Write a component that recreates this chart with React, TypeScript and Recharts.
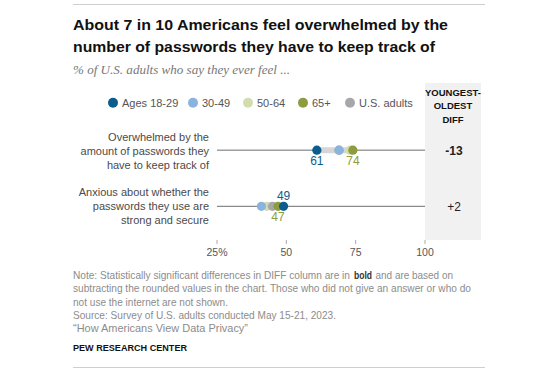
import React from 'react';
import { ScatterChart, Scatter, XAxis, YAxis } from 'recharts';

const FONT = "'Liberation Sans', Arial, Helvetica, sans-serif";

const titleLines = [
  'About 7 in 10 Americans feel overwhelmed by the',
  'number of passwords they have to keep track of',
];
const subtitle = '% of U.S. adults who say they ever feel ...';
const rowLabels = [
  ['Overwhelmed by the', 'amount of passwords they', 'have to keep track of'],
  ['Anxious about whether the', 'passwords they use are', 'strong and secure'],
];
const seriesNames = ['Ages 18-29', '30-49', '50-64', '65+', 'U.S. adults'];
const ages18to29 = [61, 49];
const ages30to49 = [69, 41];
const ages50to64 = [73, 43];
const ages65plus = [74, 47];
const usAdults = [69, 45];
const diffSignificant = [true, false];
const xTicks = [25, 50, 75, 100];
const diffHeader = ['YOUNGEST-', 'OLDEST', 'DIFF'];
const noteFirstParts = [
  'Note: Statistically significant differences in DIFF column are in',
  'bold',
  'and are based on',
];
const noteLines = [
  'subtracting the rounded values in the chart. Those who did not give an answer or who do',
  'not use the internet are not shown.',
  'Source: Survey of U.S. adults conducted May 15-21, 2023.',
  '\u201CHow Americans View Data Privacy\u201D',
];
const brand = 'PEW RESEARCH CENTER';

const colors: Record<string, string> = {
  'Ages 18-29': '#0d5d8c',
  '30-49': '#8ab3de',
  '50-64': '#d3dcae',
  '65+': '#8e9b3f',
  'U.S. adults': '#a6a7aa',
};

const valuesByName: Record<string, number[]> = {
  'Ages 18-29': ages18to29,
  '30-49': ages30to49,
  '50-64': ages50to64,
  '65+': ages65plus,
  'U.S. adults': usAdults,
};

// draw order (later on top)
const drawOrder = ['50-64', 'U.S. adults', '30-49', '65+', 'Ages 18-29'];
const labelled = ['Ages 18-29', '65+'];

type Pt = { x: number; y: number; label?: string; above?: boolean };

function buildSeries(name: string): Pt[] {
  return valuesByName[name].map((v, i) => {
    const young = ages18to29[i];
    const old = ages65plus[i];
    return {
      x: v,
      y: i + 1,
      label: labelled.includes(name) ? String(v) : undefined,
      above: name === 'Ages 18-29' && young > old,
    };
  });
}

const makeShape = (color: string) => (props: any) => {
  const { cx, cy, payload } = props;
  return (
    <g>
      <circle cx={cx} cy={cy} r={4.6} fill={color} />
      {payload && payload.label != null && (
        <text
          x={cx}
          y={payload.above ? cy - 6 : cy + 15}
          textAnchor="middle"
          fontSize={12}
          fontFamily={FONT}
          fill={color}
        >
          {payload.label}
        </text>
      )}
    </g>
  );
};

const noShape = () => <g />;

export default function App() {
  const legendX = [113, 193, 248, 303, 350];
  const noteStyle = { fontSize: 10.1, fill: '#8c8c8c' };
  const noteLens = [398, 155, 263, 175];
  const noteYs = [292, 305.5, 318.5, 331.5];
  return (
    <div style={{ position: 'absolute', left: 0, top: 0, width: 560, height: 373, background: '#fff' }}>
      <svg width={560} height={373} style={{ position: 'absolute', left: 0, top: 0 }} fontFamily={FONT}>
        <line x1={73} x2={485} y1={4.5} y2={4.5} stroke="#cfcfcf" />
        <text x={73} y={29.5} fontSize={15} fontWeight="bold" fill="#111" textLength={375} lengthAdjust="spacingAndGlyphs">
          {titleLines[0]}
        </text>
        <text x={73} y={52} fontSize={15} fontWeight="bold" fill="#111" textLength={362} lengthAdjust="spacingAndGlyphs">
          {titleLines[1]}
        </text>
        <text x={73} y={73.5} fontSize={13} fontStyle="italic" fontFamily="'Liberation Serif', Georgia, serif" fill="#777" textLength={217} lengthAdjust="spacingAndGlyphs">
          {subtitle}
        </text>

        <rect x={425} y={83} width={56} height={157} fill="#f1f1f1" />
        {diffHeader.map((t, i) => (
          <text key={t} x={453} y={96 + i * 13.3} textAnchor="middle" fontSize={9.5} fontWeight="bold" fill="#111">
            {t}
          </text>
        ))}

        {seriesNames.map((n, i) => (
          <g key={n}>
            <circle cx={legendX[i]} cy={102.7} r={5} fill={colors[n]} />
            <text x={legendX[i] + 9} y={106.8} fontSize={11} fill="#555">
              {n}
            </text>
          </g>
        ))}

        {rowLabels.map((lines, r) =>
          lines.map((l, k) => (
            <text key={r + '-' + k} x={209} y={140.5 + r * 56 - (r === 1 ? 0.5 : 0) + k * 14} textAnchor="end" fontSize={11} fill="#4a4a4a">
              {l}
            </text>
          ))
        )}

        {rowLabels.map((_, r) => {
          const d = ages18to29[r] - ages65plus[r];
          const txt = (d > 0 ? '+' : '') + d;
          return (
            <text key={'d' + r} x={454} y={154.5 + r * 56} textAnchor="middle" fontSize={12} fontWeight={diffSignificant[r] ? 'bold' : 'normal'} fill="#222">
              {txt}
            </text>
          );
        })}

        <text x={73} y={279} {...noteStyle} textLength={277} lengthAdjust="spacingAndGlyphs">
          {noteFirstParts[0]}
        </text>
        <text x={354} y={279} fontSize={10.1} fontWeight="bold" fill="#333" textLength={18} lengthAdjust="spacingAndGlyphs">
          {noteFirstParts[1]}
        </text>
        <text x={375.5} y={279} {...noteStyle} textLength={77.5} lengthAdjust="spacingAndGlyphs">
          {noteFirstParts[2]}
        </text>
        {noteLines.map((l, i) => (
          <text key={'n' + i} x={73} y={noteYs[i]} {...noteStyle} textLength={noteLens[i]} lengthAdjust="spacingAndGlyphs">
            {l}
          </text>
        ))}
        <text x={73} y={350.5} fontSize={9.5} fontWeight="bold" fill="#111" textLength={114} lengthAdjust="spacingAndGlyphs">
          {brand}
        </text>
        <line x1={73} x2={485} y1={367.5} y2={367.5} stroke="#cfcfcf" />
      </svg>

      <div style={{ position: 'absolute', left: 0, top: 0 }}>
        <ScatterChart width={560} height={373} margin={{ top: 94, right: 135, bottom: 113, left: 217 }}>
          <XAxis
            type="number"
            dataKey="x"
            domain={[25, 100]}
            ticks={xTicks}
            interval={0}
            height={20}
            axisLine={false}
            tickLine={{ stroke: '#aaa' }}
            tickSize={4}
            tickMargin={5}
            tick={{ fontSize: 10.5, fill: '#555', fontFamily: FONT }}
            tickFormatter={(v: number) => (v === 25 ? '25%' : String(v))}
            allowDataOverflow
          />
          <YAxis type="number" dataKey="y" domain={[0, 2.6]} reversed hide width={0} allowDataOverflow />
          {rowLabels.map((_, r) => (
            <Scatter
              key={'row' + r}
              data={[
                { x: 25, y: r + 1 },
                { x: 100, y: r + 1 },
              ]}
              line={{ stroke: '#6d6d6d', strokeWidth: 1 }}
              shape={noShape}
              legendType="none"
              isAnimationActive={false}
            />
          ))}
          {rowLabels.map((_, r) => {
            const vals = seriesNames.map((n) => valuesByName[n][r]);
            return (
              <Scatter
                key={'range' + r}
                data={[
                  { x: Math.min(...vals), y: r + 1 },
                  { x: Math.max(...vals), y: r + 1 },
                ]}
                line={{ stroke: '#d6d6d6', strokeWidth: 6 }}
                shape={noShape}
                legendType="none"
                isAnimationActive={false}
              />
            );
          })}
          {drawOrder.map((n) => (
            <Scatter
              key={n}
              name={n}
              data={buildSeries(n)}
              shape={makeShape(colors[n])}
              isAnimationActive={false}
            />
          ))}
        </ScatterChart>
      </div>
    </div>
  );
}
